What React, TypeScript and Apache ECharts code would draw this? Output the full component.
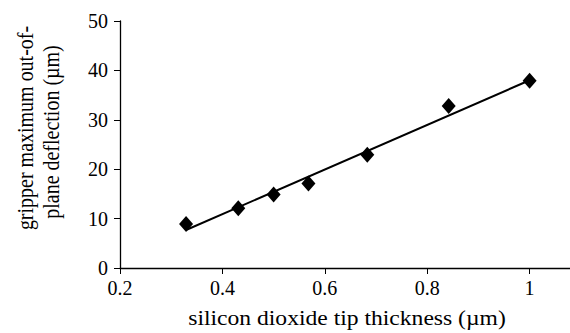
import React, { useEffect, useRef } from "react";
import * as echarts from "echarts";

const thickness = [0.329, 0.431, 0.5, 0.568, 0.683, 0.842, 1.0];
const deflection = [8.9, 12.1, 14.9, 17.1, 22.9, 32.8, 37.9];
const trendX = [0.329, 1.0];
const trendY = [7.7, 38.0];
const yTitle = ["gripper maximum out-of-", "plane deflection (µm)"];
const xTitle = "silicon dioxide tip thickness (µm)";

const FONT = "Liberation Serif";

export default function App() {
  const ref = useRef<HTMLDivElement>(null);
  useEffect(() => {
    const chart = echarts.init(ref.current!, null, { renderer: "svg" });
    chart.setOption({
      animation: false,
      backgroundColor: "#ffffff",
      grid: { left: 120, top: 21, bottom: 65, right: 8 },
      xAxis: {
        type: "value",
        min: 0.2,
        max: 1.2,
        interval: 0.2,
        axisLine: { lineStyle: { color: "#000", width: 1.3 } },
        axisTick: { show: true, length: 6, lineStyle: { color: "#000" } },
        splitLine: { show: false },
        axisLabel: {
          color: "#000",
          fontFamily: FONT,
          fontSize: 20,
          margin: 10,
          showMaxLabel: false,
          formatter: (v: number) => String(Math.round(v * 10) / 10),
        },
      },
      yAxis: {
        type: "value",
        min: 0,
        max: 50,
        interval: 10,
        axisLine: { show: true, lineStyle: { color: "#000", width: 1.3 } },
        axisTick: { show: true, length: 6, lineStyle: { color: "#000" } },
        splitLine: { show: false },
        axisLabel: { color: "#000", fontFamily: FONT, fontSize: 20, margin: 12 },
      },
      series: [
        {
          type: "line",
          data: trendX.map((x, i) => [x, trendY[i]]),
          showSymbol: false,
          symbol: "none",
          lineStyle: { color: "#000", width: 2 },
          z: 1,
        },
        {
          type: "scatter",
          data: thickness.map((x, i) => [x, deflection[i]]),
          symbol: "diamond",
          symbolSize: [14, 16],
          itemStyle: { color: "#000", opacity: 1 },
          z: 2,
        },
      ],
      graphic: [
        {
          type: "text",
          x: 347,
          y: 319,
          scaleX: 1.18,
          style: { text: xTitle, fontFamily: FONT, fontSize: 20, fill: "#000", align: "center", verticalAlign: "middle" },
        },
        {
          type: "text",
          x: 26,
          y: 128,
          rotation: Math.PI / 2,
          scaleY: 1.12,
          style: { text: yTitle[0], fontFamily: FONT, fontSize: 20, fill: "#000", align: "center", verticalAlign: "middle" },
        },
        {
          type: "text",
          x: 52,
          y: 132,
          rotation: Math.PI / 2,
          scaleY: 1.12,
          style: { text: yTitle[1], fontFamily: FONT, fontSize: 20, fill: "#000", align: "center", verticalAlign: "middle" },
        },
      ],
    });
    return () => chart.dispose();
  }, []);
  return (
    <div style={{ width: 570, height: 333, position: "absolute", left: 0, top: 0, overflow: "hidden" }}>
      <div ref={ref} style={{ width: 640, height: 333 }} />
    </div>
  );
}
